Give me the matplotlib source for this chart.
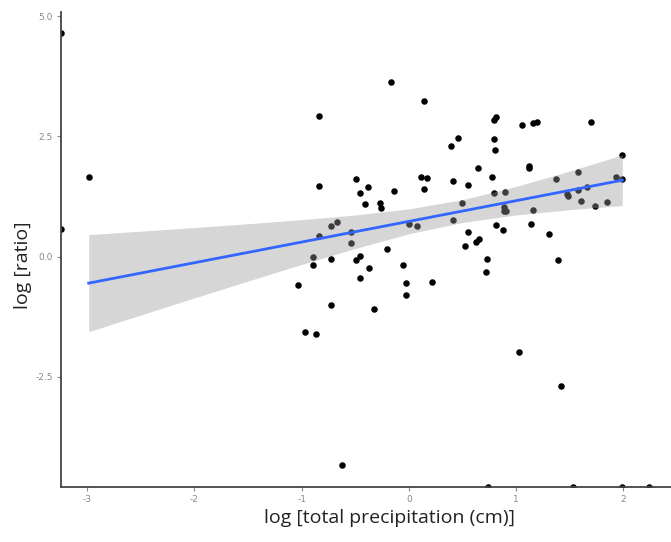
import matplotlib
matplotlib.use("Agg")
import matplotlib.pyplot as plt
import numpy as np

# scatter data (log total precipitation, log ratio)
precip_x = [-3.24, -3.24, -2.985, -0.171, 0.140, -0.837, 0.457, 0.395, -0.837, -0.492,
            -0.380, -0.451, -0.140, 0.115, 0.165, 0.140, 0.410, -0.410, -0.271, -0.264,
            0.790, 0.812, 1.051, 1.160, 1.197, 1.701, 0.790, 0.802, 0.641, 1.122,
            1.122, 0.777, 0.553, 1.987, 1.987, 1.928, 1.574, 1.374, 0.790, 0.898,
            1.471, 1.486, 1.576, 1.660, 1.602, 1.735, 1.850, 0.494, 0.886, 0.905,
            0.883, 1.160, 0.553, 0.522, 0.625, 0.650, 0.812, 0.880, 1.138, 1.303,
            0.730, 0.718, 1.393, -0.672, -0.728, -0.837, -0.535, -0.535, -0.003, 0.072,
            0.410, -0.898, -0.898, -0.725, -0.492, -0.451, -0.202, -0.373, -0.451, -0.056,
            -0.031, -0.031, 0.215, -1.029, -0.725, -0.324, -0.964, -0.865, 1.026, 1.415,
            -0.625, 0.740, 1.533, 1.990, 2.239]
ratio_y = [4.66, 0.57, 1.66, 3.63, 3.23, 2.92, 2.47, 2.30, 1.46, 1.61,
           1.45, 1.32, 1.37, 1.66, 1.64, 1.40, 1.57, 1.09, 1.12, 1.02,
           2.84, 2.90, 2.74, 2.77, 2.79, 2.79, 2.45, 2.22, 1.85, 1.89,
           1.84, 1.66, 1.50, 2.12, 1.62, 1.65, 1.77, 1.62, 1.32, 1.34,
           1.30, 1.27, 1.39, 1.44, 1.15, 1.05, 1.13, 1.11, 1.03, 0.96,
           0.95, 0.97, 0.51, 0.22, 0.31, 0.36, 0.65, 0.56, 0.69, 0.47,
           -0.05, -0.32, -0.06, 0.72, 0.63, 0.42, 0.51, 0.28, 0.69, 0.64,
           0.76, -0.01, -0.18, -0.05, -0.07, 0.01, 0.15, -0.23, -0.44, -0.17,
           -0.55, -0.80, -0.52, -0.59, -1.00, -1.09, -1.56, -1.61, -1.98, -2.69,
           -4.34, -4.79, -4.79, -4.79, -4.79]

# linear smooth with confidence band
fit_x  = [-2.985, -2.5, -2.0, -1.5, -1.0, -0.5, 0.0, 0.5, 1.0, 1.5, 1.99]
fit_y  = [-0.550, -0.341, -0.126, 0.089, 0.304, 0.519, 0.734, 0.949, 1.164, 1.379, 1.590]
fit_lo = [-1.559, -1.213, -0.858, -0.507, -0.162, 0.171, 0.475, 0.712, 0.868, 0.977, 1.065]
fit_hi = [0.459, 0.531, 0.606, 0.685, 0.770, 0.867, 0.993, 1.186, 1.460, 1.781, 2.115]

x_ticks = [-3, -2, -1, 0, 1, 2]
y_ticks = [-2.5, 0.0, 2.5, 5.0]
x_label = "log [total precipitation (cm)]"
y_label = "log [ratio]"

fig = plt.figure(figsize=(6.71, 5.42), dpi=100)
ax = fig.add_axes([61/671, 1-487/542, 1-61/671, (487-12)/542])

ax.scatter(precip_x, ratio_y, s=22, color="black", linewidths=0, zorder=2)
ax.fill_between(fit_x, fit_lo, fit_hi, color="#999999", alpha=0.4, linewidth=0, zorder=3)
ax.plot(fit_x, fit_y, color="#3366FF", linewidth=2.0, zorder=4)

ax.set_xlim(-3.243, 2.444)
ax.set_ylim(-4.788, 5.087)
ax.set_xticks(x_ticks)
ax.set_xticklabels([str(t) for t in x_ticks])
ax.set_yticks(y_ticks)
ax.set_yticklabels([f"{t:.1f}" for t in y_ticks])

for side in ["top", "right"]:
    ax.spines[side].set_visible(False)
for side in ["left", "bottom"]:
    ax.spines[side].set_color("#444444")
    ax.spines[side].set_linewidth(1.3)
    ax.spines[side].set_zorder(5)

ax.tick_params(axis="both", which="major", length=3, width=0.8, color="#888888",
               labelcolor="#888888", labelsize=6.5, pad=3)

ax.set_xlabel(x_label, fontsize=14, family="Open Sans", color="#222222")
ax.set_ylabel(y_label, fontsize=14, family="Open Sans", color="#222222")
ax.xaxis.set_label_coords(0.538, -0.046)
ax.yaxis.set_label_coords(-0.048, 0.467)

fig.savefig("out.png", dpi=100)
